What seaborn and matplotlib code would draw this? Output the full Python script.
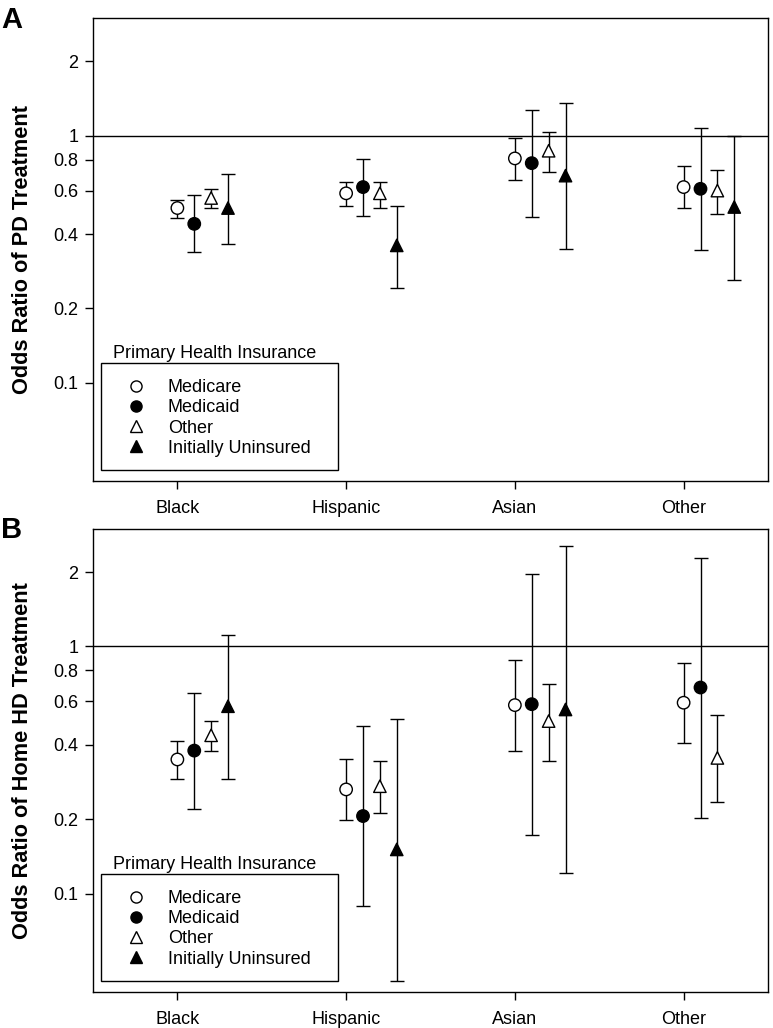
import numpy as np
import pandas as pd
import matplotlib
matplotlib.use("Agg")
import matplotlib.pyplot as plt
from matplotlib.lines import Line2D
from matplotlib.patches import Rectangle
from matplotlib.ticker import NullLocator
import seaborn as sns

races = ["Black", "Hispanic", "Asian", "Other"]
insurance = ["Medicare", "Medicaid", "Other", "Initially Uninsured"]

# Panel A: odds ratio of PD treatment (rows = race, cols = insurance)
pd_or = [[0.51, 0.44, 0.56, 0.51],
         [0.585, 0.62, 0.585, 0.36],
         [0.81, 0.775, 0.87, 0.69],
         [0.62, 0.61, 0.60, 0.515]]
pd_lo = [[0.466, 0.338, 0.508, 0.364],
         [0.521, 0.473, 0.511, 0.242],
         [0.663, 0.470, 0.714, 0.349],
         [0.511, 0.344, 0.483, 0.261]]
pd_hi = [[0.549, 0.577, 0.607, 0.699],
         [0.648, 0.806, 0.648, 0.521],
         [0.978, 1.276, 1.032, 1.362],
         [0.755, 1.071, 0.727, 1.0]]

# Panel B: odds ratio of home HD treatment (no estimate for Other / uninsured)
hd_or = [[0.349, 0.379, 0.437, 0.573],
         [0.264, 0.206, 0.272, 0.151],
         [0.579, 0.584, 0.499, 0.556],
         [0.592, 0.682, 0.354, np.nan]]
hd_lo = [[0.292, 0.221, 0.377, 0.292],
         [0.198, 0.0894, 0.211, 0.0442],
         [0.376, 0.173, 0.345, 0.121],
         [0.405, 0.203, 0.234, np.nan]]
hd_hi = [[0.414, 0.649, 0.499, 1.111],
         [0.351, 0.476, 0.345, 0.510],
         [0.880, 1.956, 0.706, 2.547],
         [0.859, 2.27, 0.527, np.nan]]

ytick_vals = [0.1, 0.2, 0.4, 0.6, 0.8, 1, 2]
ytick_labels = ["0.1", "0.2", "0.4", "0.6", "0.8", "1", "2"]

face_colors = {"Medicare": "white", "Medicaid": "black",
               "Other": "white", "Initially Uninsured": "black"}
marker_map = {"Medicare": "o", "Medicaid": "o",
              "Other": "^", "Initially Uninsured": "^"}


def to_frame(est, lo, hi):
    rows = []
    for i, race in enumerate(races):
        for j, ins in enumerate(insurance):
            rows.append({"race": race, "insurance": ins, "x": i + 0.1 * j,
                         "or": est[i][j], "lo": lo[i][j], "hi": hi[i][j]})
    return pd.DataFrame(rows).dropna()


sns.set_style("ticks")
plt.rcParams["font.family"] = ["Liberation Sans", "DejaVu Sans"]
plt.rcParams["axes.edgecolor"] = "black"
plt.rcParams["axes.linewidth"] = 1.0
plt.rcParams["text.color"] = "black"
plt.rcParams["axes.labelcolor"] = "black"
plt.rcParams["xtick.color"] = "black"
plt.rcParams["ytick.color"] = "black"

W, H = 773, 1028
fig = plt.figure(figsize=(W / 100, H / 100), dpi=100)

# axes boxes in pixels: left, top, right, bottom
ax_a = fig.add_axes([93 / W, 1 - 481 / H, 675 / W, 463 / H])
ax_b = fig.add_axes([93 / W, 1 - 992 / H, 675 / W, 463.5 / H])


def draw_panel(ax, df, ylabel, letter):
    ax.axhline(1, color="black", lw=1.0, zorder=1)
    ax.errorbar(df["x"], df["or"], yerr=[df["or"] - df["lo"], df["hi"] - df["or"]],
                fmt="none", ecolor="black", elinewidth=1.0, capsize=4.7,
                capthick=1.0, zorder=2)
    sns.scatterplot(data=df, x="x", y="or", hue="insurance", style="insurance",
                    palette=face_colors, markers=marker_map, hue_order=insurance,
                    style_order=insurance, edgecolor="black", linewidth=1.0,
                    s=80, legend=False, zorder=3, ax=ax)

    ax.set_yscale("log")
    ax.set_ylim(0.04, 3.0)
    ax.set_yticks(ytick_vals)
    ax.set_yticklabels(ytick_labels)
    ax.yaxis.set_minor_locator(NullLocator())
    ax.set_xlim(-0.5, 3.5)
    ax.set_xticks(range(len(races)))
    ax.set_xticklabels(races)
    ax.tick_params(axis="both", direction="out", length=5.5, width=1.0,
                   labelsize=13, top=False, right=False)
    ax.tick_params(axis="x", pad=8)
    ax.tick_params(axis="y", pad=5)
    ax.set_xlabel("")
    ax.set_ylabel(ylabel, fontsize=15.7, fontweight="bold", va="center")
    ax.yaxis.set_label_coords(-70 / 675, 0.5)
    for sp in ax.spines.values():
        sp.set_visible(True)
        sp.set_color("black")

    # legend: title sits above a framed box
    bx, by, bw, bh = 8 / 675, 11 / 463, 237 / 675, 107 / 463
    ax.add_patch(Rectangle((bx, by), bw, bh, transform=ax.transAxes, fill=False,
                           edgecolor="black", lw=1.0, zorder=4))
    ax.text(bx + 12 / 675, by + bh + 5 / 463, "Primary Health Insurance",
            transform=ax.transAxes, fontsize=13, va="baseline")
    handles = [Line2D([], [], linestyle="none", marker=marker_map[k],
                      markerfacecolor=face_colors[k], markeredgecolor="black",
                      markeredgewidth=1.0, markersize=8) for k in insurance]
    ax.legend(handles, insurance, loc="upper left", bbox_to_anchor=(bx, by + bh),
              frameon=False, fontsize=13, borderaxespad=0, borderpad=0.91,
              handlelength=2.05, handletextpad=0.74, labelspacing=0.17)

    pos = ax.get_position()
    fig.text(1 / W, pos.y1 + 12 / H, letter, fontsize=21, fontweight="bold",
             ha="left", va="top")


draw_panel(ax_a, to_frame(pd_or, pd_lo, pd_hi), "Odds Ratio of PD Treatment", "A")
draw_panel(ax_b, to_frame(hd_or, hd_lo, hd_hi), "Odds Ratio of Home HD Treatment", "B")

fig.savefig("out.png", dpi=100)
